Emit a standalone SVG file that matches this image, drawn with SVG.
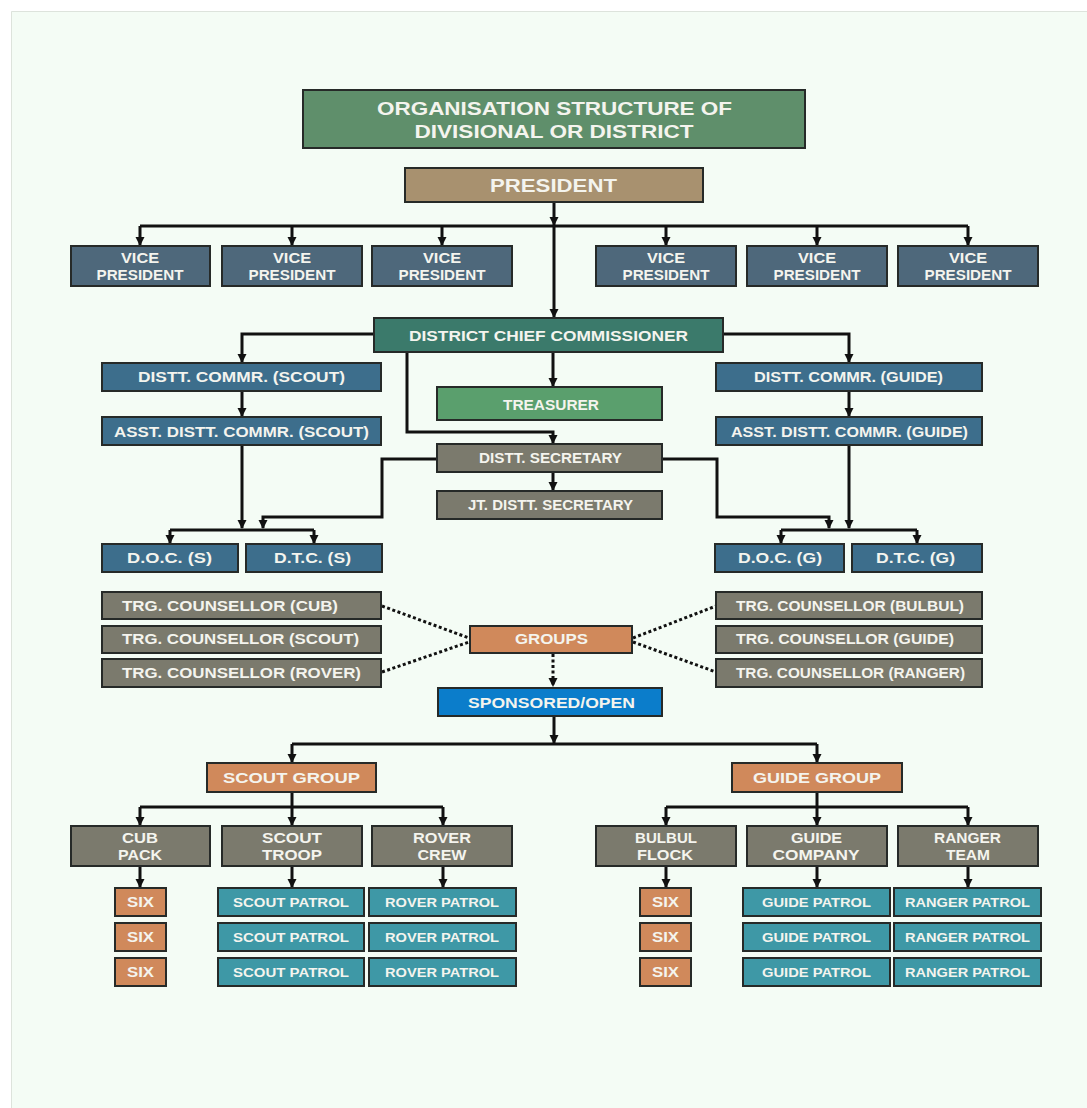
<svg xmlns="http://www.w3.org/2000/svg" width="1087" height="1108" viewBox="0 0 1087 1108">
<defs>
<style>
.bx{stroke:#262a28;stroke-width:2}
.t{font-family:"Liberation Sans",Arial,sans-serif;font-weight:bold;fill:#f4f4ee;text-anchor:middle}
.ts{font-family:"Liberation Sans",Arial,sans-serif;font-weight:bold;fill:#f4f4ee;text-anchor:start}
.c{fill:none;stroke:#111;stroke-width:3}
.d{fill:none;stroke:#111;stroke-width:3;stroke-dasharray:3 2.5}
.green{fill:#5f8f6b}.tan{fill:#a8916f}.slate{fill:#4e687b}.teal{fill:#3b7a6b}
.blue{fill:#3d6e8c}.lgreen{fill:#5a9f6d}.gray{fill:#7b7a6d}.orange{fill:#d0895b}
.sky{fill:#0b7dcb}.pat{fill:#3e98a6}
</style>
<marker id="ah" markerUnits="userSpaceOnUse" markerWidth="10" markerHeight="10" viewBox="0 -5 9 10" refX="8" refY="0" orient="auto">
<path d="M0,-4.5 L9,0 L0,4.5 z" fill="#111"/>
</marker>
</defs>
<rect x="0" y="0" width="1087" height="1108" fill="#ffffff"/>
<rect x="11" y="11" width="1076" height="1097" fill="#f4fcf5"/>
<path d="M11.5,1108 V11.5 H1087" fill="none" stroke="#dde3dc" stroke-width="1"/>

<g id="connectors">
<path class="c" d="M554,202 V225" marker-end="url(#ah)"/>
<path class="c" d="M140,226 H968"/>
<path class="c" d="M140,226 V245" marker-end="url(#ah)"/>
<path class="c" d="M292,226 V245" marker-end="url(#ah)"/>
<path class="c" d="M442,226 V245" marker-end="url(#ah)"/>
<path class="c" d="M666,226 V245" marker-end="url(#ah)"/>
<path class="c" d="M817,226 V245" marker-end="url(#ah)"/>
<path class="c" d="M968,226 V245" marker-end="url(#ah)"/>
<path class="c" d="M554,226 V317" marker-end="url(#ah)"/>
<path class="c" d="M374,334 H242 V362" marker-end="url(#ah)"/>
<path class="c" d="M723,334 H849 V362" marker-end="url(#ah)"/>
<path class="c" d="M242,391 V416" marker-end="url(#ah)"/>
<path class="c" d="M849,391 V416" marker-end="url(#ah)"/>
<path class="c" d="M553,352 V386" marker-end="url(#ah)"/>
<path class="c" d="M407,352 V432 H553 V443" marker-end="url(#ah)"/>
<path class="c" d="M553,472 V490" marker-end="url(#ah)"/>
<path class="c" d="M242,445 V528" marker-end="url(#ah)"/>
<path class="c" d="M437,459 H382 V517 H263 V528" marker-end="url(#ah)"/>
<path class="c" d="M170,530 H314"/>
<path class="c" d="M170,530 V543" marker-end="url(#ah)"/>
<path class="c" d="M314,530 V543" marker-end="url(#ah)"/>
<path class="c" d="M849,445 V528" marker-end="url(#ah)"/>
<path class="c" d="M662,459 H717 V517 H829 V528" marker-end="url(#ah)"/>
<path class="c" d="M781,530 H917"/>
<path class="c" d="M781,530 V543" marker-end="url(#ah)"/>
<path class="c" d="M917,530 V543" marker-end="url(#ah)"/>
<path class="d" d="M382,606 L469,638"/>
<path class="d" d="M382,672 L469,642"/>
<path class="d" d="M633,638 L716,606"/>
<path class="d" d="M633,642 L716,672"/>
<path class="d" d="M553,654 V686" marker-end="url(#ah)"/>
<path class="c" d="M554,716 V743" marker-end="url(#ah)"/>
<path class="c" d="M292,744 H817"/>
<path class="c" d="M292,744 V762" marker-end="url(#ah)"/>
<path class="c" d="M817,744 V762" marker-end="url(#ah)"/>
<path class="c" d="M292,792 V807"/>
<path class="c" d="M140,807 H443"/>
<path class="c" d="M140,807 V825" marker-end="url(#ah)"/>
<path class="c" d="M292,807 V825" marker-end="url(#ah)"/>
<path class="c" d="M443,807 V825" marker-end="url(#ah)"/>
<path class="c" d="M817,792 V807"/>
<path class="c" d="M666,807 H968"/>
<path class="c" d="M666,807 V825" marker-end="url(#ah)"/>
<path class="c" d="M817,807 V825" marker-end="url(#ah)"/>
<path class="c" d="M968,807 V825" marker-end="url(#ah)"/>
<path class="c" d="M140,866 V887" marker-end="url(#ah)"/>
<path class="c" d="M292,866 V887" marker-end="url(#ah)"/>
<path class="c" d="M443,866 V887" marker-end="url(#ah)"/>
<path class="c" d="M666,866 V887" marker-end="url(#ah)"/>
<path class="c" d="M817,866 V887" marker-end="url(#ah)"/>
<path class="c" d="M968,866 V887" marker-end="url(#ah)"/>
</g>

<g id="title"><rect class="bx green" x="303" y="90" width="502" height="58"/>
<text class="t" x="554.5" y="115" font-size="18" textLength="355" lengthAdjust="spacingAndGlyphs">ORGANISATION STRUCTURE OF</text>
<text class="t" x="554" y="138" font-size="18" textLength="279" lengthAdjust="spacingAndGlyphs">DIVISIONAL OR DISTRICT</text></g>

<g id="president"><rect class="bx tan" x="405" y="168" width="298" height="34"/>
<text class="t" x="553.5" y="192" font-size="18" textLength="127" lengthAdjust="spacingAndGlyphs">PRESIDENT</text></g>

<g id="vp1"><rect class="bx slate" x="71" y="246" width="139" height="40"/><text class="t" x="140" y="263" font-size="14" textLength="38" lengthAdjust="spacingAndGlyphs">VICE</text><text class="t" x="140" y="280" font-size="14" textLength="87" lengthAdjust="spacingAndGlyphs">PRESIDENT</text></g>
<g id="vp2"><rect class="bx slate" x="222" y="246" width="140" height="40"/><text class="t" x="292" y="263" font-size="14" textLength="38" lengthAdjust="spacingAndGlyphs">VICE</text><text class="t" x="292" y="280" font-size="14" textLength="87" lengthAdjust="spacingAndGlyphs">PRESIDENT</text></g>
<g id="vp3"><rect class="bx slate" x="372" y="246" width="140" height="40"/><text class="t" x="442" y="263" font-size="14" textLength="38" lengthAdjust="spacingAndGlyphs">VICE</text><text class="t" x="442" y="280" font-size="14" textLength="87" lengthAdjust="spacingAndGlyphs">PRESIDENT</text></g>
<g id="vp4"><rect class="bx slate" x="596" y="246" width="140" height="40"/><text class="t" x="666" y="263" font-size="14" textLength="38" lengthAdjust="spacingAndGlyphs">VICE</text><text class="t" x="666" y="280" font-size="14" textLength="87" lengthAdjust="spacingAndGlyphs">PRESIDENT</text></g>
<g id="vp5"><rect class="bx slate" x="747" y="246" width="140" height="40"/><text class="t" x="817" y="263" font-size="14" textLength="38" lengthAdjust="spacingAndGlyphs">VICE</text><text class="t" x="817" y="280" font-size="14" textLength="87" lengthAdjust="spacingAndGlyphs">PRESIDENT</text></g>
<g id="vp6"><rect class="bx slate" x="898" y="246" width="140" height="40"/><text class="t" x="968" y="263" font-size="14" textLength="38" lengthAdjust="spacingAndGlyphs">VICE</text><text class="t" x="968" y="280" font-size="14" textLength="87" lengthAdjust="spacingAndGlyphs">PRESIDENT</text></g>

<g id="dcc"><rect class="bx teal" x="374" y="318" width="349" height="34"/>
<text class="t" x="548.5" y="341" font-size="15" textLength="279" lengthAdjust="spacingAndGlyphs">DISTRICT CHIEF COMMISSIONER</text></g>

<g id="dc-scout"><rect class="bx blue" x="102" y="363" width="279" height="28"/>
<text class="t" x="241.5" y="382" font-size="14" textLength="207" lengthAdjust="spacingAndGlyphs">DISTT. COMMR. (SCOUT)</text></g>
<g id="adc-scout"><rect class="bx blue" x="102" y="417" width="279" height="28"/>
<text class="t" x="241.5" y="437" font-size="14" textLength="255" lengthAdjust="spacingAndGlyphs">ASST. DISTT. COMMR. (SCOUT)</text></g>
<g id="dc-guide"><rect class="bx blue" x="716" y="363" width="266" height="28"/>
<text class="t" x="848.5" y="382" font-size="14" textLength="189" lengthAdjust="spacingAndGlyphs">DISTT. COMMR. (GUIDE)</text></g>
<g id="adc-guide"><rect class="bx blue" x="716" y="417" width="266" height="28"/>
<text class="t" x="849.5" y="437" font-size="14" textLength="237" lengthAdjust="spacingAndGlyphs">ASST. DISTT. COMMR. (GUIDE)</text></g>

<g id="treasurer"><rect class="bx lgreen" x="437" y="387" width="225" height="33"/>
<text class="t" x="551" y="410" font-size="15" textLength="96" lengthAdjust="spacingAndGlyphs">TREASURER</text></g>
<g id="secretary"><rect class="bx gray" x="437" y="444" width="225" height="28"/>
<text class="t" x="550.5" y="463" font-size="14" textLength="143" lengthAdjust="spacingAndGlyphs">DISTT. SECRETARY</text></g>
<g id="jt-secretary"><rect class="bx gray" x="437" y="491" width="225" height="28"/>
<text class="t" x="550.5" y="510" font-size="14" textLength="165" lengthAdjust="spacingAndGlyphs">JT. DISTT. SECRETARY</text></g>

<g id="doc-s"><rect class="bx blue" x="102" y="544" width="136" height="28"/>
<text class="t" x="169.5" y="563" font-size="14" textLength="85" lengthAdjust="spacingAndGlyphs">D.O.C. (S)</text></g>
<g id="dtc-s"><rect class="bx blue" x="246" y="544" width="136" height="28"/>
<text class="t" x="312.5" y="563" font-size="14" textLength="77" lengthAdjust="spacingAndGlyphs">D.T.C. (S)</text></g>
<g id="doc-g"><rect class="bx blue" x="715" y="544" width="129" height="28"/>
<text class="t" x="780" y="563" font-size="14" textLength="84" lengthAdjust="spacingAndGlyphs">D.O.C. (G)</text></g>
<g id="dtc-g"><rect class="bx blue" x="852" y="544" width="130" height="28"/>
<text class="t" x="915.5" y="563" font-size="14" textLength="79" lengthAdjust="spacingAndGlyphs">D.T.C. (G)</text></g>

<g id="tc-cub"><rect class="bx gray" x="102" y="592" width="279" height="27"/>
<text class="ts" x="122" y="611" font-size="14" textLength="216" lengthAdjust="spacingAndGlyphs">TRG. COUNSELLOR (CUB)</text></g>
<g id="tc-scout"><rect class="bx gray" x="102" y="626" width="279" height="27"/>
<text class="ts" x="122" y="644" font-size="14" textLength="237" lengthAdjust="spacingAndGlyphs">TRG. COUNSELLOR (SCOUT)</text></g>
<g id="tc-rover"><rect class="bx gray" x="102" y="659" width="279" height="28"/>
<text class="ts" x="122" y="678" font-size="14" textLength="239" lengthAdjust="spacingAndGlyphs">TRG. COUNSELLOR (ROVER)</text></g>
<g id="tc-bulbul"><rect class="bx gray" x="716" y="592" width="266" height="27"/>
<text class="ts" x="736" y="611" font-size="14" textLength="228" lengthAdjust="spacingAndGlyphs">TRG. COUNSELLOR (BULBUL)</text></g>
<g id="tc-guide"><rect class="bx gray" x="716" y="626" width="266" height="27"/>
<text class="ts" x="736" y="644" font-size="14" textLength="218" lengthAdjust="spacingAndGlyphs">TRG. COUNSELLOR (GUIDE)</text></g>
<g id="tc-ranger"><rect class="bx gray" x="716" y="659" width="266" height="28"/>
<text class="ts" x="736" y="678" font-size="14" textLength="229" lengthAdjust="spacingAndGlyphs">TRG. COUNSELLOR (RANGER)</text></g>

<g id="groups"><rect class="bx orange" x="470" y="626" width="162" height="27"/>
<text class="t" x="551.5" y="644" font-size="14" textLength="73" lengthAdjust="spacingAndGlyphs">GROUPS</text></g>
<g id="sponsored"><rect class="bx sky" x="438" y="688" width="224" height="28"/>
<text class="t" x="551.5" y="708" font-size="14" textLength="167" lengthAdjust="spacingAndGlyphs">SPONSORED/OPEN</text></g>

<g id="scout-group"><rect class="bx orange" x="207" y="763" width="169" height="29"/>
<text class="t" x="291.5" y="783" font-size="15" textLength="137" lengthAdjust="spacingAndGlyphs">SCOUT GROUP</text></g>
<g id="guide-group"><rect class="bx orange" x="732" y="763" width="170" height="29"/>
<text class="t" x="817" y="783" font-size="15" textLength="128" lengthAdjust="spacingAndGlyphs">GUIDE GROUP</text></g>

<g id="cub-pack"><rect class="bx gray" x="71" y="826" width="139" height="40"/><text class="t" x="140" y="843" font-size="14" textLength="36" lengthAdjust="spacingAndGlyphs">CUB</text><text class="t" x="140" y="860" font-size="14" textLength="44" lengthAdjust="spacingAndGlyphs">PACK</text></g>
<g id="scout-troop"><rect class="bx gray" x="222" y="826" width="140" height="40"/><text class="t" x="292" y="843" font-size="14" textLength="60" lengthAdjust="spacingAndGlyphs">SCOUT</text><text class="t" x="292" y="860" font-size="14" textLength="60" lengthAdjust="spacingAndGlyphs">TROOP</text></g>
<g id="rover-crew"><rect class="bx gray" x="372" y="826" width="140" height="40"/><text class="t" x="442" y="843" font-size="14" textLength="58" lengthAdjust="spacingAndGlyphs">ROVER</text><text class="t" x="442" y="860" font-size="14" textLength="49" lengthAdjust="spacingAndGlyphs">CREW</text></g>
<g id="bulbul-flock"><rect class="bx gray" x="596" y="826" width="140" height="40"/><text class="t" x="666" y="843" font-size="14" textLength="62" lengthAdjust="spacingAndGlyphs">BULBUL</text><text class="t" x="665" y="860" font-size="14" textLength="56" lengthAdjust="spacingAndGlyphs">FLOCK</text></g>
<g id="guide-company"><rect class="bx gray" x="747" y="826" width="140" height="40"/><text class="t" x="816.5" y="843" font-size="14" textLength="51" lengthAdjust="spacingAndGlyphs">GUIDE</text><text class="t" x="816" y="860" font-size="14" textLength="87" lengthAdjust="spacingAndGlyphs">COMPANY</text></g>
<g id="ranger-team"><rect class="bx gray" x="898" y="826" width="140" height="40"/><text class="t" x="967.5" y="843" font-size="14" textLength="67" lengthAdjust="spacingAndGlyphs">RANGER</text><text class="t" x="968" y="860" font-size="14" textLength="44" lengthAdjust="spacingAndGlyphs">TEAM</text></g>

<g id="six-s1"><rect class="bx orange" x="115" y="888" width="51" height="28"/><text class="t" x="140.5" y="907" font-size="14" textLength="27" lengthAdjust="spacingAndGlyphs">SIX</text></g>
<g id="six-s2"><rect class="bx orange" x="115" y="923" width="51" height="28"/><text class="t" x="140.5" y="942" font-size="14" textLength="27" lengthAdjust="spacingAndGlyphs">SIX</text></g>
<g id="six-s3"><rect class="bx orange" x="115" y="958" width="51" height="28"/><text class="t" x="140.5" y="977" font-size="14" textLength="27" lengthAdjust="spacingAndGlyphs">SIX</text></g>
<g id="scout-patrol1"><rect class="bx pat" x="218" y="888" width="146" height="28"/><text class="t" x="291" y="907" font-size="13" textLength="116" lengthAdjust="spacingAndGlyphs">SCOUT PATROL</text></g>
<g id="scout-patrol2"><rect class="bx pat" x="218" y="923" width="146" height="28"/><text class="t" x="291" y="942" font-size="13" textLength="116" lengthAdjust="spacingAndGlyphs">SCOUT PATROL</text></g>
<g id="scout-patrol3"><rect class="bx pat" x="218" y="958" width="146" height="28"/><text class="t" x="291" y="977" font-size="13" textLength="116" lengthAdjust="spacingAndGlyphs">SCOUT PATROL</text></g>
<g id="rover-patrol1"><rect class="bx pat" x="369" y="888" width="147" height="28"/><text class="t" x="442" y="907" font-size="13" textLength="114" lengthAdjust="spacingAndGlyphs">ROVER PATROL</text></g>
<g id="rover-patrol2"><rect class="bx pat" x="369" y="923" width="147" height="28"/><text class="t" x="442" y="942" font-size="13" textLength="114" lengthAdjust="spacingAndGlyphs">ROVER PATROL</text></g>
<g id="rover-patrol3"><rect class="bx pat" x="369" y="958" width="147" height="28"/><text class="t" x="442" y="977" font-size="13" textLength="114" lengthAdjust="spacingAndGlyphs">ROVER PATROL</text></g>

<g id="six-g1"><rect class="bx orange" x="640" y="888" width="51" height="28"/><text class="t" x="665.5" y="907" font-size="14" textLength="27" lengthAdjust="spacingAndGlyphs">SIX</text></g>
<g id="six-g2"><rect class="bx orange" x="640" y="923" width="51" height="28"/><text class="t" x="665.5" y="942" font-size="14" textLength="27" lengthAdjust="spacingAndGlyphs">SIX</text></g>
<g id="six-g3"><rect class="bx orange" x="640" y="958" width="51" height="28"/><text class="t" x="665.5" y="977" font-size="14" textLength="27" lengthAdjust="spacingAndGlyphs">SIX</text></g>
<g id="guide-patrol1"><rect class="bx pat" x="743" y="888" width="147" height="28"/><text class="t" x="816.5" y="907" font-size="13" textLength="109" lengthAdjust="spacingAndGlyphs">GUIDE PATROL</text></g>
<g id="guide-patrol2"><rect class="bx pat" x="743" y="923" width="147" height="28"/><text class="t" x="816.5" y="942" font-size="13" textLength="109" lengthAdjust="spacingAndGlyphs">GUIDE PATROL</text></g>
<g id="guide-patrol3"><rect class="bx pat" x="743" y="958" width="147" height="28"/><text class="t" x="816.5" y="977" font-size="13" textLength="109" lengthAdjust="spacingAndGlyphs">GUIDE PATROL</text></g>
<g id="ranger-patrol1"><rect class="bx pat" x="894" y="888" width="147" height="28"/><text class="t" x="967.5" y="907" font-size="13" textLength="125" lengthAdjust="spacingAndGlyphs">RANGER PATROL</text></g>
<g id="ranger-patrol2"><rect class="bx pat" x="894" y="923" width="147" height="28"/><text class="t" x="967.5" y="942" font-size="13" textLength="125" lengthAdjust="spacingAndGlyphs">RANGER PATROL</text></g>
<g id="ranger-patrol3"><rect class="bx pat" x="894" y="958" width="147" height="28"/><text class="t" x="967.5" y="977" font-size="13" textLength="125" lengthAdjust="spacingAndGlyphs">RANGER PATROL</text></g>
</svg>
